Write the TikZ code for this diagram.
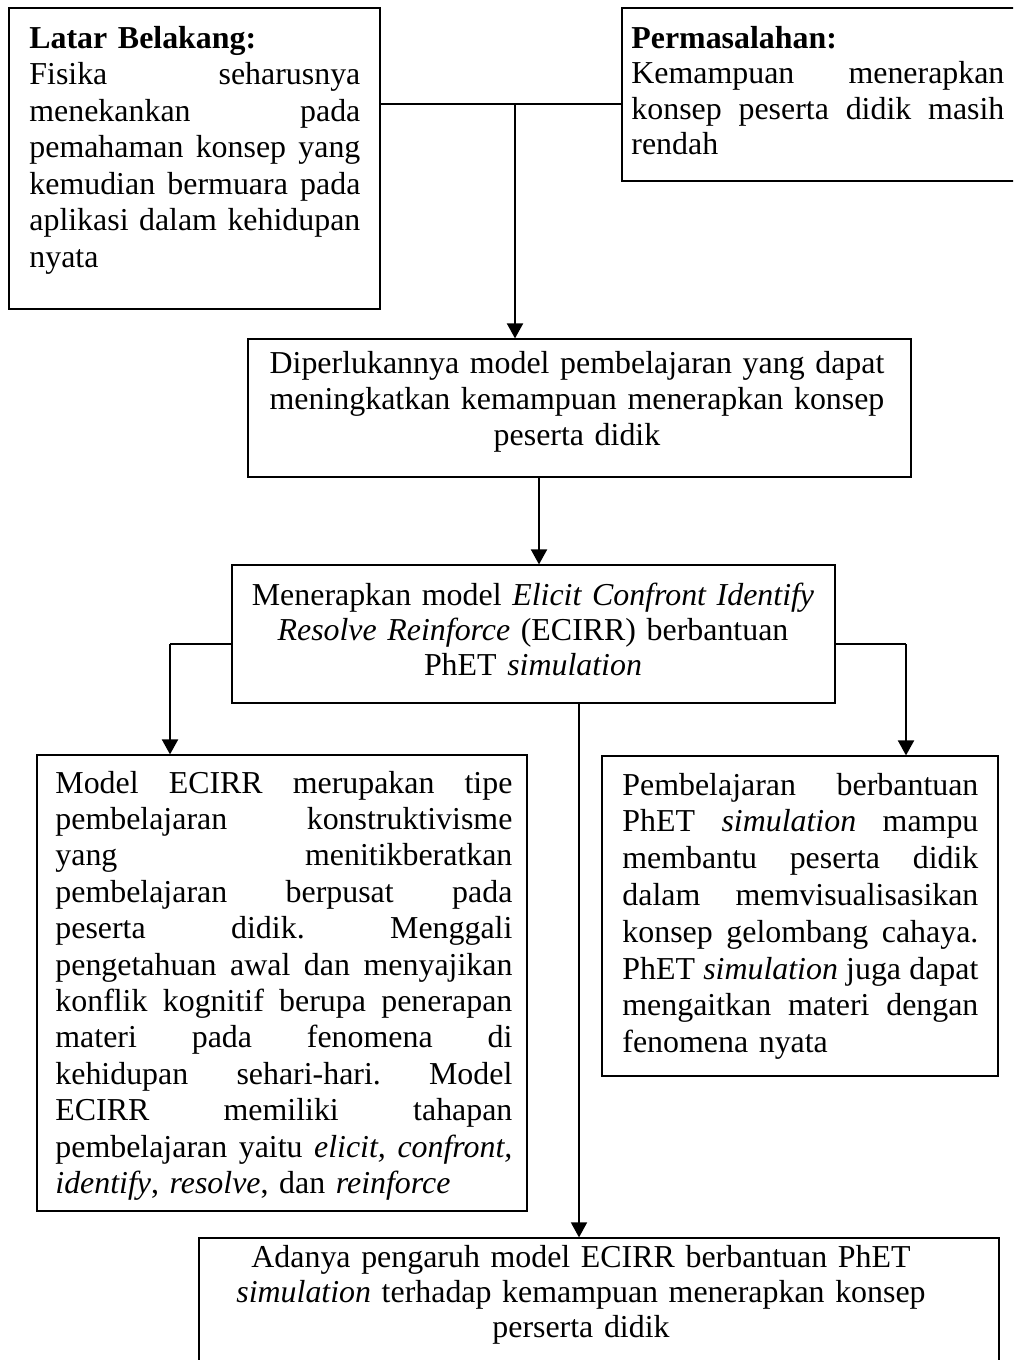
\documentclass[tikz,border=0pt]{standalone}
\usepackage{fontspec}
\setmainfont{Liberation Serif}
\usetikzlibrary{arrows.meta,fit}
\newcommand\jw{100pt}
\newcommand\jl[1]{\leavevmode\hbox to\jw{\spaceskip=0.25em plus 1fil minus 0.05em\relax #1}}
\newcommand\fz[1]{\fontsize{15.95pt}{#1}\selectfont\frenchspacing}
\begin{document}
\begin{tikzpicture}[x=0.5pt,y=-0.5pt,
  box/.style={draw, line width=0.6pt, inner sep=0pt},
  txt/.style={inner sep=0pt, align=left, anchor=base west, text width=#1,
    execute at begin node={\renewcommand\jw{#1}}},
  ctxt/.style={inner sep=0pt, align=center, anchor=base},
  arr/.style={line width=1pt, -{Triangle[width=8pt,length=7.5pt]}},
  conn/.style={line width=0.6pt}]
\path[fill=white,use as bounding box] (0,0) rectangle (1013,1360);
\clip (0,0) rectangle (1013,1360);
% boxes
\node[box, fit={(9,8) (380,309)}] (b1) {};
\node[box, fit={(622,8) (1030,181)}] (b2) {};
\node[box, fit={(248,339) (911,477)}] (b3) {};
\node[box, fit={(232,565) (835,703)}] (b4) {};
\node[box, fit={(37,755) (527,1211)}] (b5) {};
\node[box, fit={(602,756) (998,1076)}] (b6) {};
\node[box, fit={(199,1238) (999,1420)}] (b7) {};
% texts
\node[txt=165.5pt, font=\fz{18.25pt}] (t1) at (29,48)
 {\textbf{Latar Belakang:}\\
  \jl{Fisika seharusnya}\\
  \jl{menekankan pada}\\
  \jl{pemahaman konsep yang}\\
  \jl{kemudian bermuara pada}\\
  \jl{aplikasi dalam kehidupan}\\
  nyata};
\node[txt=186.5pt, font=\fz{17.75pt}] (t2) at (631,48)
 {\textbf{Permasalahan:}\\
  \jl{Kemampuan menerapkan}\\
  \jl{konsep peserta didik masih}\\
  rendah};
\node[ctxt, text width=330pt, font=\fz{18pt}] (t3) at (577,373)
 {Diperlukannya model pembelajaran yang dapat\\
  meningkatkan kemampuan menerapkan konsep\\
  peserta didik};
\node[ctxt, text width=300pt, font=\fz{17.5pt}] (t4) at (533,605)
 {Menerapkan model \textit{Elicit Confront Identify}\\
  \textit{Resolve Reinforce} (ECIRR) berbantuan\\
  PhET \textit{simulation}};
\node[txt=228.5pt, font=\fz{18.2pt}] (t5) at (55,793)
 {\jl{Model ECIRR merupakan tipe}\\
  \jl{pembelajaran konstruktivisme}\\
  \jl{yang menitikberatkan}\\
  \jl{pembelajaran berpusat pada}\\
  \jl{peserta didik. Menggali}\\
  \jl{pengetahuan awal dan menyajikan}\\
  \jl{konflik kognitif berupa penerapan}\\
  \jl{materi pada fenomena di}\\
  \jl{kehidupan sehari-hari. Model}\\
  \jl{ECIRR memiliki tahapan}\\
  \jl{pembelajaran yaitu \textit{elicit, confront,}}\\
  \textit{identify}, \textit{resolve}, dan \textit{reinforce}};
\node[txt=178pt, font=\fz{18.4pt}] (t6) at (622,795)
 {\jl{Pembelajaran berbantuan}\\
  \jl{PhET \textit{simulation} mampu}\\
  \jl{membantu peserta didik}\\
  \jl{dalam memvisualisasikan}\\
  \jl{konsep gelombang cahaya.}\\
  \jl{PhET \textit{simulation} juga dapat}\\
  \jl{mengaitkan materi dengan}\\
  fenomena nyata};
\node[ctxt, text width=400pt, font=\fz{17.5pt}] (t7) at (581,1267)
 {Adanya pengaruh model ECIRR berbantuan PhET\\
  \textit{simulation} terhadap kemampuan menerapkan konsep\\
  perserta didik};
% connectors
\coordinate (j1) at (515,104);
\draw[conn] (b1.east |- j1) -- (b2.west |- j1);
\draw[arr] (j1) -- (b3.north -| j1);
\coordinate (j2) at (539,520);
\draw[arr] (b3.south -| j2) -- (b4.north -| j2);
\coordinate (j3) at (170,644);
\draw[conn] (b4.west |- j3) -- (j3);
\draw[arr] (j3) -- (b5.north -| j3);
\coordinate (j4) at (906,644);
\draw[conn] (b4.east |- j4) -- (j4);
\draw[arr] (j4) -- (b6.north -| j4);
\coordinate (j5) at (579,1000);
\draw[arr, line width=0.8pt] (b4.south -| j5) -- (b7.north -| j5);
\end{tikzpicture}
\end{document}
